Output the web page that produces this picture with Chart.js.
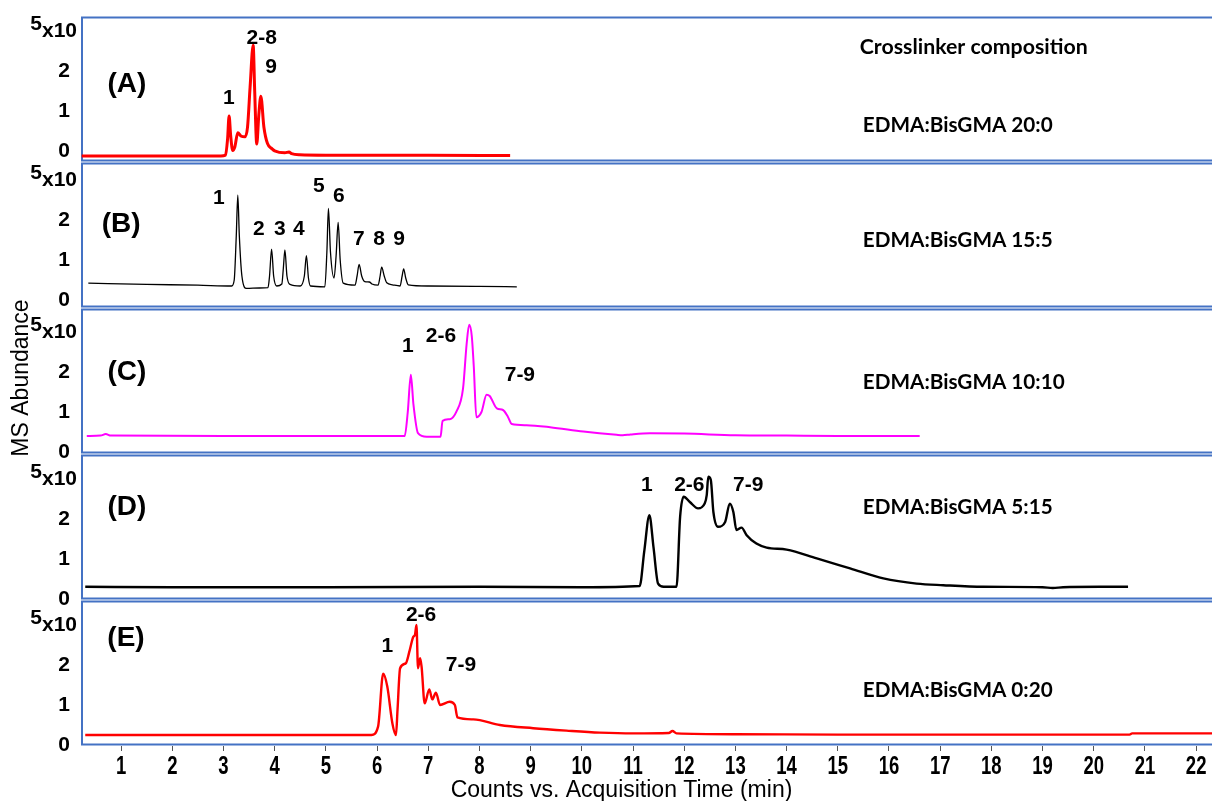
<!DOCTYPE html>
<html>
<head>
<meta charset="utf-8">
<script src="https://cdn.jsdelivr.net/npm/chart.js@4.4.1/dist/chart.umd.min.js"></script>
<style>
  html, body { margin: 0; background: #fff; }
  #wrap { position: relative; width: 1212px; height: 801px; }
</style>
</head>
<body>
<div id="wrap"><canvas id="chrom" width="1212" height="801"></canvas></div>
<script>
'use strict';
/* Stacked chromatograms, one strip per EDMA:BisGMA ratio, shared time axis.
   Abundance in units of 10^5 counts. */

const timeTicks = [1, 2, 3, 4, 5, 6, 7, 8, 9, 10, 11, 12, 13, 14, 15, 16, 17, 18, 19, 20, 21, 22];
const abundTicks = [0, 1, 2];
const panelTags = ['(A)', '(B)', '(C)', '(D)', '(E)'];
const compositions = ['EDMA:BisGMA 20:0', 'EDMA:BisGMA 15:5', 'EDMA:BisGMA 10:10', 'EDMA:BisGMA 5:15', 'EDMA:BisGMA 0:20'];

// (A) 20:0
const timeA = [0.23, 2.95, 3.04, 3.08, 3.11, 3.14, 3.18, 3.22, 3.28, 3.34, 3.42, 3.47, 3.52, 3.58, 3.61, 3.65, 3.69, 3.73,
  3.79, 3.86, 3.95, 4.0, 4.2, 4.28, 4.33, 4.49, 5.0, 5.66, 7.0, 8.6];
const abundA = [-0.12, -0.12, -0.1, 0.3, 0.88, 0.4, 0.02, 0.1, 0.46, 0.38, 0.36, 0.6, 1.6, 2.65, 1.5, 0.18, 0.9, 1.375,
  0.6, 0.19, 0.06, 0.01, -0.04, -0.02, -0.06, -0.09, -0.1, -0.1, -0.1, -0.11];

// (B) 15:5
const timeB = [0.36, 1.5, 2.5, 3.16, 3.21, 3.25, 3.28, 3.31, 3.36, 3.45, 3.7, 3.87, 3.9, 3.94, 3.98, 4.04, 4.14, 4.17, 4.2,
  4.24, 4.3, 4.5, 4.58, 4.62, 4.66, 4.7, 4.98, 5.02, 5.05, 5.09, 5.16, 5.2, 5.24, 5.28, 5.34, 5.57, 5.61, 5.65, 5.7, 5.76,
  5.85, 5.9, 6.02, 6.06, 6.09, 6.14, 6.19, 6.3, 6.45, 6.49, 6.52, 6.56, 6.61, 7.0, 8.0, 8.73];
const abundB = [0.42, 0.39, 0.37, 0.35, 0.5, 1.6, 2.62, 1.6, 0.6, 0.29, 0.3, 0.31, 0.6, 1.27, 0.6, 0.35, 0.4, 0.8, 1.25,
  0.6, 0.39, 0.35, 0.6, 1.11, 0.55, 0.35, 0.33, 1.2, 2.29, 1.2, 0.55, 1.1, 1.94, 1.0, 0.42, 0.37, 0.6, 0.89, 0.6, 0.46,
  0.45, 0.4, 0.37, 0.6, 0.82, 0.6, 0.43, 0.38, 0.35, 0.6, 0.78, 0.55, 0.38, 0.35, 0.34, 0.33];

// (C) 10:10
const timeC = [0.33, 0.6, 0.7, 0.8, 3.0, 6.54, 6.6, 6.66, 6.71, 6.8, 6.97, 7.24, 7.28, 7.42, 7.55, 7.68, 7.75, 7.8, 7.85,
  7.89, 7.94, 8.04, 8.14, 8.2, 8.34, 8.46, 8.56, 8.63, 8.92, 9.38, 10.03, 10.68, 10.8, 10.95, 11.33, 12.0, 13.0, 14.0,
  15.0, 16.0, 16.6];
const abundC = [0.4, 0.41, 0.45, 0.41, 0.4, 0.4, 1.0, 1.93, 1.2, 0.47, 0.38, 0.38, 0.78, 0.82, 1.01, 1.59, 2.7, 3.18, 2.9,
  2.13, 0.87, 1.0, 1.43, 1.4, 1.09, 1.05, 0.87, 0.7, 0.67, 0.62, 0.51, 0.43, 0.42, 0.44, 0.47, 0.46, 0.42, 0.41,
  0.4, 0.4, 0.4];

// (D) 5:15
const timeD = [0.3, 2.0, 5.0, 8.0, 10.0, 11.13, 11.22, 11.32, 11.4, 11.49, 11.6, 11.85, 11.92, 11.99, 12.11, 12.27, 12.4,
  12.44, 12.47, 12.52, 12.57, 12.66, 12.8, 12.89, 12.96, 13.02, 13.12, 13.22, 13.41, 13.61, 14.0, 14.59, 15.24, 15.89,
  16.54, 17.06, 17.84, 19.0, 19.2, 19.4, 20.12, 20.67];
const abundD = [0.31, 0.3, 0.3, 0.31, 0.3, 0.33, 1.2, 2.1, 1.3, 0.39, 0.31, 0.31, 2.06, 2.56, 2.43, 2.27, 2.39,
  2.6, 3.06, 2.98, 2.18, 1.81, 1.93, 2.39, 2.18, 1.73, 1.79, 1.6, 1.39, 1.29, 1.24, 1.02, 0.77, 0.52,
  0.39, 0.35, 0.31, 0.3, 0.28, 0.3, 0.31, 0.31];

// (E) 0:20
const timeE = [0.3, 5.89, 6.02, 6.12, 6.2, 6.3, 6.37, 6.4, 6.45, 6.56, 6.64, 6.71, 6.74, 6.77, 6.8, 6.84, 6.87, 6.93, 7.02,
  7.08, 7.15, 7.23, 7.42, 7.52, 7.57, 7.88, 8.4, 9.05, 9.7, 10.35, 11.0, 11.7, 11.77, 11.85, 13.0, 15.0, 17.0, 20.7,
  20.75, 22.31];
const abundE = [0.25, 0.25, 0.46, 1.78, 1.46, 0.54, 0.25, 0.88, 1.92, 2.04, 2.38, 2.71, 2.75, 3.0, 1.92, 2.17, 1.96, 1.04, 1.39,
  1.14, 1.31, 1.0, 1.08, 1.0, 0.69, 0.64, 0.5, 0.42, 0.36, 0.31, 0.29, 0.3, 0.35, 0.29, 0.27, 0.26, 0.26, 0.26,
  0.29, 0.29];

// peak numbering, written at [label, time, abundance]
const peaksA = [['1', 3.107, 1.32], ['2-8', 3.746, 2.82], ['9', 3.93, 2.09]];
const peaksB = [['1', 2.91, 2.55], ['2', 3.69, 1.775], ['3', 4.1, 1.775], ['4', 4.47, 1.775], ['5', 4.865, 2.855],
  ['6', 5.256, 2.6], ['7', 5.646, 1.525], ['8', 6.04, 1.525], ['9', 6.43, 1.525]];
const peaksC = [['1', 6.6, 2.65], ['2-6', 7.25, 2.9], ['7-9', 8.79, 1.925]];
const peaksD = [['1', 11.27, 2.84], ['2-6', 12.1, 2.84], ['7-9', 13.25, 2.84]];
const peaksE = [['1', 6.2, 2.48], ['2-6', 6.86, 3.25], ['7-9', 7.64, 2.0]];

const SPAN = 3.65;            // abundance units visible per strip
const ARIAL = '"Liberation Sans", Arial, sans-serif';
const CALI = 'Lato, "Open Sans", sans-serif';

const panels = [
  { id: 'yA', t: timeA, v: abundA, peaks: peaksA, color: '#ff0000', lw: 3,   min: -0.27, tag: [1.115, 1.675], comp: 0.65 },
  { id: 'yB', t: timeB, v: abundB, peaks: peaksB, color: '#000000', lw: 1.3, min: -0.2,  tag: [1.0, 1.9],     comp: 1.5 },
  { id: 'yC', t: timeC, v: abundC, peaks: peaksC, color: '#ff00ff', lw: 2,   min: -0.05, tag: [1.115, 2.0],   comp: 1.75 },
  { id: 'yD', t: timeD, v: abundD, peaks: peaksD, color: '#000000', lw: 2.4, min: -0.02, tag: [1.115, 2.3],   comp: 2.29 },
  { id: 'yE', t: timeE, v: abundE, peaks: peaksE, color: '#ff0000', lw: 2.4, min: -0.025, tag: [1.096, 2.68], comp: 1.375 },
];

const scales = {
  x: {
    type: 'linear', position: 'bottom', min: 0.217, max: 22.31,
    afterBuildTicks: s => { s.ticks = timeTicks.map(v => ({ value: v })); },
    afterFit: s => { s.height = 55; s.paddingLeft = 0; s.paddingRight = 0; },
    grid: { drawOnChartArea: false, drawTicks: true, tickLength: 5, color: '#555' },
    border: { display: false },
    ticks: { display: false },   // labels drawn condensed in stripDecor
  },
};
panels.forEach((p, i) => {
  scales[p.id] = {
    type: 'linear', position: 'left', stack: 'strips', stackWeight: 1, weight: panels.length - i,
    min: p.min, max: p.min + SPAN,
    afterBuildTicks: s => { s.ticks = abundTicks.map(v => ({ value: v })); },
    afterFit: s => { s.width = 81; s.paddingTop = 0; s.paddingBottom = 0; },
    grid: { display: false, drawTicks: false },
    border: { display: false },
    ticks: { font: { family: ARIAL, size: 21, weight: 'bold' }, color: '#000', padding: 11 },
  };
});

// font size that makes txt span the given width
function fitFont(ctx, txt, weight, family, width) {
  ctx.font = `${weight} 20px ${family}`;
  return `${weight} ${(20 * width / ctx.measureText(txt).width).toFixed(1)}px ${family}`;
}

// strip frames, scale exponents, captions
const stripDecor = {
  id: 'stripDecor',
  beforeDatasetsDraw(chart) {
    const { ctx, chartArea: ca } = chart;
    ctx.save();
    ctx.strokeStyle = '#4472c4';
    ctx.lineWidth = 2;
    panels.forEach(p => {
      const s = chart.scales[p.id];
      ctx.strokeRect(ca.left + 1, s.top + 1.5, ca.right - ca.left + 10, s.bottom - s.top - 3);
    });
    ctx.restore();
  },
  afterDraw(chart) {
    const { ctx } = chart;
    const x = chart.scales.x;
    ctx.save();
    ctx.fillStyle = '#000';
    ctx.textBaseline = 'middle';
    const compFont = fitFont(ctx, 'EDMA:BisGMA 5:15', 'bold', CALI, 190);
    panels.forEach((p, i) => {
      const s = chart.scales[p.id];
      const y3 = s.getPixelForValue(3);
      // x10 with the exponent 5 tucked in front
      ctx.font = `bold 21px ${ARIAL}`;
      ctx.textAlign = 'left';
      ctx.fillText('x10', 42, y3);
      ctx.textAlign = 'right';
      ctx.fillText('5', 42, y3 - 7);

      ctx.textAlign = 'center';
      ctx.font = `bold 28px ${ARIAL}`;
      ctx.fillText(panelTags[i], x.getPixelForValue(p.tag[0]), s.getPixelForValue(p.tag[1]));

      ctx.font = `bold 21px ${ARIAL}`;
      p.peaks.forEach(([txt, t, v]) => ctx.fillText(txt, x.getPixelForValue(t), s.getPixelForValue(v)));

      ctx.textAlign = 'left';
      ctx.font = compFont;
      ctx.fillText(compositions[i], x.getPixelForValue(15.49), s.getPixelForValue(p.comp));
    });
    const sA = chart.scales.yA;
    ctx.font = fitFont(ctx, 'Crosslinker composition', 'bold', CALI, 228);
    ctx.fillText('Crosslinker composition', x.getPixelForValue(15.43), sA.getPixelForValue(2.6));

    // time tick labels, narrow bold digits
    ctx.textAlign = 'center';
    ctx.textBaseline = 'alphabetic';
    ctx.font = `bold 25px ${ARIAL}`;
    timeTicks.forEach(v => {
      ctx.save();
      ctx.translate(x.getPixelForValue(v), 774);
      ctx.scale(0.74, 1);
      ctx.fillText(String(v), 0, 0);
      ctx.restore();
    });

    ctx.font = `23px ${ARIAL}`;
    ctx.fillText('Counts vs. Acquisition Time (min)', 621.5, 797);

    ctx.translate(22, 378);
    ctx.rotate(-Math.PI / 2);
    ctx.textBaseline = 'middle';
    ctx.fillText('MS Abundance', 0, 0);
    ctx.restore();
  },
};

new Chart(document.getElementById('chrom'), {
  type: 'line',
  data: {
    datasets: panels.map(p => ({
      data: p.t.map((t, k) => ({ x: t, y: p.v[k] })),
      yAxisID: p.id, xAxisID: 'x',
      borderColor: p.color, borderWidth: p.lw,
      pointRadius: 0, fill: false, cubicInterpolationMode: 'monotone',
    })),
  },
  plugins: [stripDecor],
  options: {
    responsive: false, animation: false,
    layout: { padding: { top: 16, left: 0, right: 0, bottom: 0 } },
    plugins: { legend: { display: false }, tooltip: { enabled: false } },
    scales,
  },
});
</script>
</body>
</html>
